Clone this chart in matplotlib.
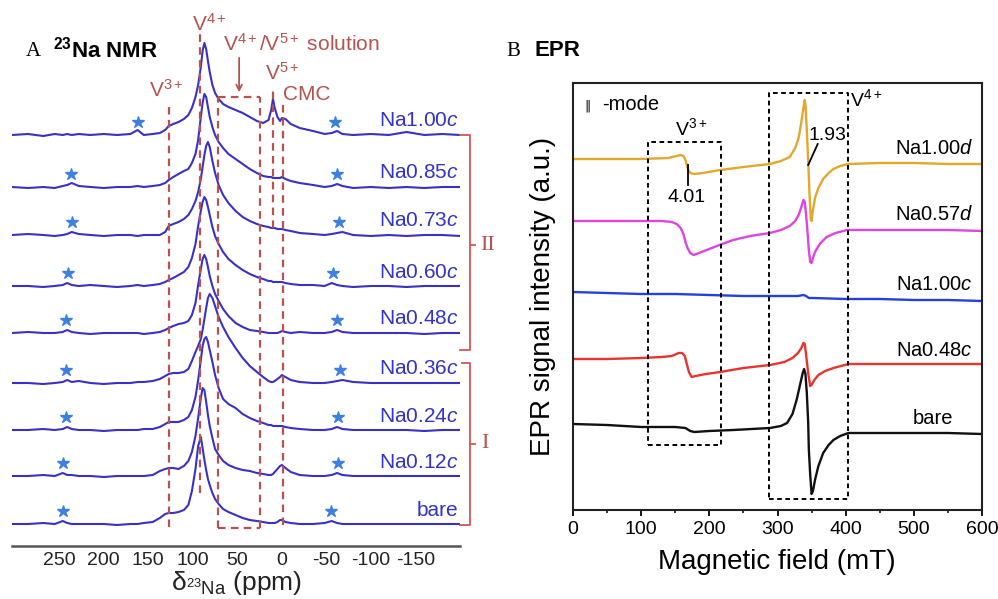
import numpy as np
import matplotlib.pyplot as plt
from matplotlib.ticker import MultipleLocator

plt.rcParams['font.family'] = ['Liberation Sans', 'DejaVu Sans']
plt.rcParams['mathtext.fontset'] = 'custom'
plt.rcParams['mathtext.rm'] = 'Liberation Sans'
plt.rcParams['mathtext.it'] = 'Liberation Sans:italic'
plt.rcParams['mathtext.bf'] = 'Liberation Sans:bold'

# ---------------- panel A : 23Na NMR (heights, px units) ----------------
ppm = [303, 285, 268, 255, 246, 241, 236, 228, 215, 200, 185, 170,
       162, 155, 145, 137, 131, 127, 122, 116, 110, 105, 101, 97,
       94, 91, 89, 87, 85, 83, 81, 78, 75, 71, 66, 60,
       52, 44, 36, 28, 21, 15, 12, 10, 8, 5, 2, 0,
       -4, -10, -20, -35, -48, -56, -62, -68, -80, -100, -120, -140, -160, -180, -200]

na100c = [0, 1, -1, 1, 0, 1, 0, 1, 0, 1, 0, 1,
          5, 0, 1, 2, 5, 9, 11, 13, 16, 20, 27, 38,
          50, 68, 84, 92, 86, 74, 63, 50, 42, 36, 31, 28,
          25, 22, 18, 14, 12, 15, 25, 36, 27, 18, 14, 17,
          16, 11, 7, 4, 1, 2, 4, 1, 0, 1, 0, 3, 0, 1, 0]
na085c = [0, -1, 0, -1, 1, 2, 4, 1, 0, -1, 0, 0,
          1, 0, 1, 2, 4, 7, 10, 13, 16, 18, 24, 33,
          47, 70, 84, 93, 90, 80, 70, 60, 52, 45, 39, 33,
          28, 23, 18, 14, 11, 10, 10, 9, 9, 9, 9, 10,
          8, 6, 4, 2, 0, 1, 3, 1, -1, 0, -1, 0, -1, 0, 0]
na073c = [0, 1, 0, -1, 0, 1, 3, 1, 0, -1, 0, 0,
          -1, 0, 0, 0, 3, 9, 11, 13, 16, 20, 26, 34,
          43, 56, 68, 80, 89, 93, 88, 74, 62, 50, 40, 32,
          24, 18, 14, 11, 9, 8, 7, 7, 7, 6, 6, 6,
          5, 4, 2, 1, 0, 1, 2, 3, 0, -1, 0, -1, 0, 0, -1]
na060c = [0, 0, -1, 0, 1, 3, 1, 0, 1, 0, -1, 0,
          1, 0, 1, 2, 4, 6, 8, 11, 14, 19, 28, 42,
          60, 75, 84, 89, 86, 79, 71, 59, 50, 42, 34, 27,
          21, 16, 12, 9, 7, 5, 5, 4, 4, 4, 4, 4,
          3, 2, 1, 1, 0, 3, 1, 0, -1, 0, 0, -1, 0, 0, 0]
na048c = [0, 1, 0, 0, 1, 3, 1, 0, -1, 0, 0, 0,
          0, -1, 0, 1, 3, 5, 7, 9, 10, 12, 18, 30,
          48, 64, 74, 78, 74, 66, 57, 47, 39, 32, 24, 17,
          10, 6, 3, 2, 1, 0, 0, 0, 0, 0, 1, 2,
          1, 0, 1, 0, 0, 1, 3, 1, 0, 0, 0, 0, -1, 0, 0]
na036c = [0, 0, -1, 0, 1, 3, 1, 2, 0, -1, 0, 0,
          1, 1, 2, 4, 7, 9, 10, 10, 11, 14, 22, 31,
          37, 44, 53, 64, 75, 85, 89, 85, 77, 66, 56, 46,
          35, 25, 17, 11, 6, 2, 1, 1, 2, 4, 6, 8,
          6, 3, 1, 0, 0, 1, 2, 3, 1, 0, 0, 0, 0, 0, 0]
na024c = [0, 0, 1, 0, 1, 3, 1, 0, 0, -1, 0, 0,
          0, 1, 1, 3, 6, 8, 8, 8, 10, 13, 20, 33,
          50, 70, 84, 91, 93, 88, 80, 68, 55, 42, 31, 26,
          22, 16, 12, 9, 7, 5, 5, 4, 4, 4, 4, 4,
          3, 2, 1, 0, 0, 1, 3, 1, 0, 0, 0, 0, -1, 0, 0]
na012c = [0, 0, 1, 0, 3, 1, 1, 0, 0, -1, 0, 0,
          0, 0, 1, 5, 7, 8, 8, 7, 10, 15, 24, 40,
          58, 78, 88, 86, 74, 61, 50, 38, 27, 21, 15, 11,
          8, 6, 5, 3, 2, 1, 1, 2, 4, 7, 10, 11,
          8, 4, 1, 0, 0, 1, 3, 1, 0, 0, 0, 0, 0, 0, 0]
bare_nmr = [0, 0, 1, 0, 3, 1, 0, 0, 0, 0, -1, 0,
            0, 1, 2, 6, 10, 11, 11, 12, 14, 19, 33, 55,
            78, 87, 76, 64, 54, 45, 39, 31, 25, 20, 15, 12,
            9, 6, 4, 3, 2, 1, 1, 1, 1, 2, 4, 4,
            2, 1, 0, 0, 1, 3, 1, 0, 0, 0, 0, 0, 0, 0, 0]

nmr_traces = [na100c, na085c, na073c, na060c, na048c, na036c, na024c, na012c, bare_nmr]
nmr_names = ['Na1.00', 'Na0.85', 'Na0.73', 'Na0.60', 'Na0.48', 'Na0.36', 'Na0.24', 'Na0.12', 'bare']
nmr_offsets = [389, 337, 289, 238, 191, 141, 94, 48, 0]
star_left = [162, 237, 236, 240, 242, 242, 242, 246, 246]
star_right = [-60, -62, -64, -57, -62, -65, -63, -63, -55]
nmr_ticks = [250, 200, 150, 100, 50, 0, -50, -100, -150]

# ---------------- panel B : EPR ----------------
epr_100d_x = [0, 50, 100, 140, 152, 158, 162, 165, 167, 169, 172, 178, 190, 216, 250, 289, 305, 318, 326, 331,
              335, 338, 340, 341, 343, 345, 347, 349, 350, 352, 355, 360, 367, 375, 382, 392, 404, 450, 500, 550, 600]
epr_100d_y = [351, 351, 351, 352, 354, 355, 354, 350, 345, 340, 337, 336, 337, 340, 343, 346, 349, 353, 362, 372,
              388, 402, 410, 405, 380, 350, 315, 290, 289, 300, 312, 322, 331, 337, 341, 344, 346, 347, 347, 346, 346]
epr_057d_x = [0, 50, 100, 130, 145, 152, 158, 162, 165, 168, 172, 177, 185, 196, 215, 235, 260, 289, 305, 318,
              326, 331, 335, 338, 340, 342, 344, 346, 348, 350, 352, 355, 362, 372, 385, 402, 450, 500, 550, 600]
epr_057d_y = [289, 289, 289, 289, 288, 286, 282, 276, 268, 262, 257, 255, 257, 260, 265, 270, 274, 277, 280, 284,
              289, 295, 303, 310, 308, 295, 278, 260, 248, 247, 252, 258, 266, 273, 277, 280, 280, 280, 280, 279]
epr_100c_x = [0, 50, 100, 150, 200, 250, 300, 330, 338, 342, 346, 352, 400, 450, 500, 550, 600]
epr_100c_y = [218, 217, 216, 216, 215, 214, 214, 214, 215, 214, 212, 212, 211, 211, 210, 210, 209]
epr_048c_x = [0, 50, 100, 130, 145, 155, 160, 164, 167, 170, 174, 180, 195, 216, 250, 289, 310, 322, 330, 335,
              338, 340, 342, 345, 348, 350, 354, 360, 370, 382, 404, 450, 500, 550, 600]
epr_048c_y = [151, 151, 152, 153, 154, 157, 157, 154, 146, 138, 133, 134, 136, 138, 142, 145, 148, 152, 157, 162,
              167, 166, 155, 137, 124, 125, 130, 135, 139, 142, 146, 146, 146, 146, 146]
epr_bare_x = [0, 50, 100, 150, 165, 172, 178, 200, 235, 289, 305, 314, 322, 328, 333, 337, 339, 341, 343, 345,
              346, 348, 350, 352, 355, 360, 367, 375, 382, 392, 404, 450, 502, 550, 600]
epr_bare_y = [86, 85, 83, 83, 82, 79, 78, 79, 80, 82, 84, 87, 96, 110, 125, 137, 141, 136, 117, 88,
              60, 35, 16, 19, 30, 44, 57, 65, 70, 74, 77, 77, 77, 77, 76]

epr_names = ['Na1.00$d$', 'Na0.57$d$', 'Na1.00$c$', 'Na0.48$c$', 'bare']
epr_colors = ['#e2a82c', '#de45e0', '#2540e0', '#e8342c', '#111111']

W, H = 998, 599
fig = plt.figure(figsize=(W / 100, H / 100), dpi=100)

def fx(px):
    return px / W

def fy(py):
    return 1 - py / H

red = '#b8524f'
nmr_blue = '#3a30c6'

# ---- panel A ----
axA = fig.add_axes([fx(12), fy(546), (460 - 12) / W, (546 - 20) / H])
for vals, off, name, sl, sr in zip(nmr_traces, nmr_offsets, nmr_names, star_left, star_right):
    axA.plot(ppm, np.array(vals) + off, color=nmr_blue, lw=1.5, zorder=2)
    axA.plot([sl, sr], [off + 13, off + 13], ls='none', marker='*', ms=9,
             color='#3d80e2', zorder=4)
    lab = name if name == 'bare' else name + '$c$'
    axA.text(-198, off + 14, lab, ha='right', va='center', fontsize=15, color='#3232cc')

dash = (0, (3.4, 2.4))
for x, y0, y1 in [(127, -3, 421), (92, 31, 492), (72, -4, 427), (25, -4, 427), (10, 296, 436), (-1, -1, 424)]:
    axA.plot([x, x], [y0, y1], color=red, lw=1.6, ls=dash, zorder=3)
axA.plot([72, 25], [427, 427], color=red, lw=1.6, ls=dash, zorder=3)
axA.plot([72, 25], [-4, -4], color=red, lw=1.6, ls=dash, zorder=3)
axA.annotate('', xy=(48, 429), xytext=(48, 469),
             arrowprops=dict(arrowstyle='->', color=red, lw=1.3))

axA.text(130, 434, 'V$^{3+}$', color=red, fontsize=15, ha='center', va='center')
axA.text(81, 500, 'V$^{4+}$', color=red, fontsize=15, ha='center', va='center')
axA.text(-22, 480, 'V$^{4+}$/V$^{5+}$ solution', color=red, fontsize=15, ha='center', va='center')
axA.text(0, 451, 'V$^{5+}$', color=red, fontsize=15, ha='center', va='center')
axA.text(-28, 429, 'CMC', color=red, fontsize=15, ha='center', va='center')

# brackets II and I
bc = '#d45555'
axA.plot([-200, -211, -211, -200], [389, 389, 174, 174], color=bc, lw=1.3, clip_on=False)
axA.plot([-211, -217], [279, 279], color=bc, lw=1.3, clip_on=False)
axA.plot([-202, -211, -211, -200], [161, 161, -1, -1], color=bc, lw=1.3, clip_on=False)
axA.plot([-211, -217], [80, 80], color=bc, lw=1.3, clip_on=False)
axA.text(-231, 279, 'II', color=red, fontsize=16, family='Liberation Serif', ha='center', va='center')
axA.text(-228, 80, 'I', color=red, fontsize=16, family='Liberation Serif', ha='center', va='center')

axA.set_xlim(303, -200)
axA.set_ylim(-22, 504)
axA.set_xticks(nmr_ticks)
axA.set_xticklabels([str(t) for t in nmr_ticks], fontsize=14, color='#222222')
axA.tick_params(axis='x', length=0, pad=4)
axA.set_yticks([])
for s in ['top', 'left', 'right']:
    axA.spines[s].set_visible(False)
axA.spines['bottom'].set_color('#555555')
axA.spines['bottom'].set_linewidth(1.8)
axA.patch.set_alpha(0)

fig.text(fx(236), fy(583), 'δ${}_{{}^{23}\\mathrm{Na}}$ (ppm)', fontsize=19, color='#222222',
         ha='center', va='center')
fig.text(fx(33), fy(52), 'A', family='Liberation Serif', fontsize=15, ha='center', va='center')
fig.text(fx(53), fy(50), '${}^{\\mathbf{23}}$Na NMR', fontsize=16, fontweight='bold',
         ha='left', va='center')

# ---- panel B ----
axB = fig.add_axes([fx(573), fy(510), (982 - 573) / W, (510 - 83) / H])
epr_x = [epr_100d_x, epr_057d_x, epr_100c_x, epr_048c_x, epr_bare_x]
epr_y = [epr_100d_y, epr_057d_y, epr_100c_y, epr_048c_y, epr_bare_y]
for xs, ys, c in zip(epr_x, epr_y, epr_colors):
    axB.plot(xs, ys, color=c, lw=1.7)

bdash = (0, (2.4, 1.8))
axB.plot([110, 217, 217, 110, 110], [65, 65, 368, 368, 65], color='k', lw=1.4, ls=bdash)
axB.plot([288, 404, 404, 288, 288], [11, 11, 417, 417, 11], color='k', lw=1.4, ls=bdash)
axB.plot([169, 169], [345, 325], color='k', lw=1.3)
axB.plot([345, 359], [345, 366], color='k', lw=1.3)

axB.text(22, 404, '\u2016', fontsize=9, ha='center', va='center', family=['DejaVu Sans'])
axB.text(42, 405, '-mode', fontsize=14.5, ha='left', va='center')
axB.text(173, 382, 'V$^{3+}$', fontsize=14, ha='center', va='center')
axB.text(430, 411, 'V$^{4+}$', fontsize=14, ha='center', va='center')
axB.text(373, 375, '1.93', fontsize=14, ha='center', va='center')
axB.text(166, 313, '4.01', fontsize=14, ha='center', va='center')

for name, yv, xr in zip(epr_names, [362, 295, 225, 159, 92], [587, 587, 587, 587, 557]):
    axB.text(xr, yv, name, fontsize=14.5, ha='right', va='center')

axB.set_xlim(0, 600)
axB.set_ylim(0, 427)
axB.set_yticks([])
axB.xaxis.set_major_locator(MultipleLocator(100))
axB.xaxis.set_minor_locator(MultipleLocator(50))
axB.tick_params(axis='x', which='major', direction='out', length=4, width=1.3, labelsize=14, pad=4)
axB.tick_params(axis='x', which='minor', direction='out', length=2.5, width=1.1)
for s in axB.spines.values():
    s.set_linewidth(1.5)
    s.set_color('#222222')

fig.text(fx(777), fy(562), 'Magnetic field (mT)', fontsize=20, ha='center', va='center')
fig.text(fx(543), fy(296), 'EPR signal intensity (a.u.)', fontsize=20, rotation=90,
         ha='center', va='center')
fig.text(fx(513), fy(52), 'B', family='Liberation Serif', fontsize=15, ha='center', va='center')
fig.text(fx(535), fy(51), 'EPR', fontsize=16, fontweight='bold', ha='left', va='center')

fig.savefig('out.png', dpi=100)
